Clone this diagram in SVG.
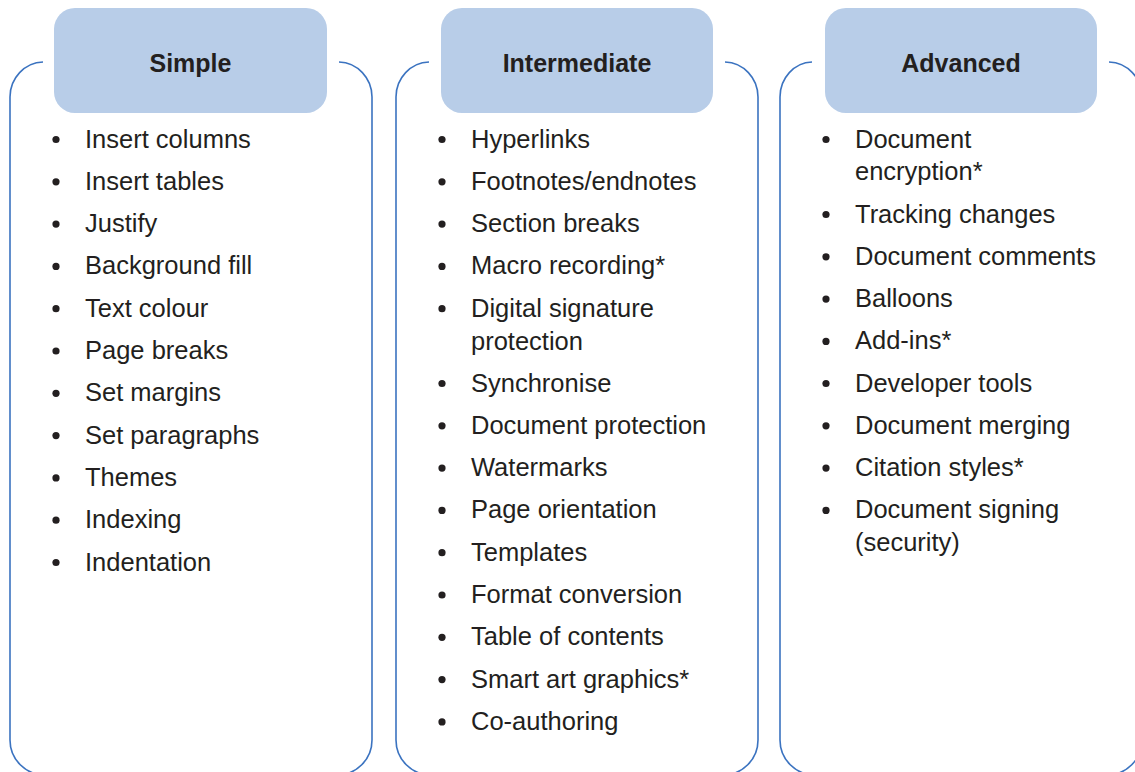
<svg xmlns="http://www.w3.org/2000/svg" width="1135" height="772" viewBox="0 0 1135 772">
<style>
.frame{fill:none;stroke:#3b73c0;stroke-width:1.6}
.head{fill:#b8cde8}
.ht{font-family:"Liberation Sans",Arial,sans-serif;font-weight:bold;font-size:25px;fill:#231f20;text-anchor:middle}
.it{font-family:"Liberation Sans",Arial,sans-serif;font-size:25.5px;fill:#231f20}
.b{fill:#231f20}
</style>
<rect width="1135" height="772" fill="#ffffff"/>
<g id="connectors">
<path class="frame" d="M43,62 A34,35 0 0 0 10,97 V740 A35,35 0 0 0 45,775 H337 A35,35 0 0 0 372,740 V97 A34,35 0 0 0 339,62"/>
<path class="frame" d="M429,62 A34,35 0 0 0 396,97 V740 A35,35 0 0 0 431,775 H723 A35,35 0 0 0 758,740 V97 A34,35 0 0 0 725,62"/>
<path class="frame" d="M812,62 A33,35 0 0 0 780,97 V740 A35,35 0 0 0 815,775 H1107 A35,35 0 0 0 1142,740 V97 A34,35 0 0 0 1109,62"/>
</g>
<g id="simple">
<rect class="head" x="54" y="8" width="273" height="105" rx="21"/>
<text class="ht" x="190.5" y="71.5">Simple</text>
<g class="b">
<circle cx="56" cy="139.5" r="3.6"/><circle cx="56" cy="181.8" r="3.6"/><circle cx="56" cy="224.1" r="3.6"/><circle cx="56" cy="266.4" r="3.6"/><circle cx="56" cy="308.7" r="3.6"/><circle cx="56" cy="351" r="3.6"/><circle cx="56" cy="393.3" r="3.6"/><circle cx="56" cy="435.6" r="3.6"/><circle cx="56" cy="477.9" r="3.6"/><circle cx="56" cy="520.2" r="3.6"/><circle cx="56" cy="562.5" r="3.6"/>
</g>
<text class="it" x="85" y="147.5">Insert columns</text>
<text class="it" x="85" y="189.8">Insert tables</text>
<text class="it" x="85" y="232.1">Justify</text>
<text class="it" x="85" y="274.4">Background fill</text>
<text class="it" x="85" y="316.7">Text colour</text>
<text class="it" x="85" y="359">Page breaks</text>
<text class="it" x="85" y="401.3">Set margins</text>
<text class="it" x="85" y="443.6">Set paragraphs</text>
<text class="it" x="85" y="485.9">Themes</text>
<text class="it" x="85" y="528.2">Indexing</text>
<text class="it" x="85" y="570.5">Indentation</text>
</g>
<g id="intermediate">
<rect class="head" x="441" y="8" width="272" height="105" rx="21"/>
<text class="ht" x="577" y="71.5">Intermediate</text>
<g class="b">
<circle cx="442" cy="139.5" r="3.6"/><circle cx="442" cy="181.8" r="3.6"/><circle cx="442" cy="224.1" r="3.6"/><circle cx="442" cy="266.4" r="3.6"/><circle cx="442" cy="308.7" r="3.6"/><circle cx="442" cy="383.5" r="3.6"/><circle cx="442" cy="425.8" r="3.6"/><circle cx="442" cy="468.1" r="3.6"/><circle cx="442" cy="510.4" r="3.6"/><circle cx="442" cy="552.7" r="3.6"/><circle cx="442" cy="595" r="3.6"/><circle cx="442" cy="637.3" r="3.6"/><circle cx="442" cy="679.6" r="3.6"/><circle cx="442" cy="721.9" r="3.6"/>
</g>
<text class="it" x="471" y="147.5">Hyperlinks</text>
<text class="it" x="471" y="189.8">Footnotes/endnotes</text>
<text class="it" x="471" y="232.1">Section breaks</text>
<text class="it" x="471" y="274.4">Macro recording*</text>
<text class="it" x="471" y="316.7">Digital signature</text>
<text class="it" x="471" y="349.5">protection</text>
<text class="it" x="471" y="391.5">Synchronise</text>
<text class="it" x="471" y="433.8">Document protection</text>
<text class="it" x="471" y="476.1">Watermarks</text>
<text class="it" x="471" y="518.4">Page orientation</text>
<text class="it" x="471" y="560.7">Templates</text>
<text class="it" x="471" y="603">Format conversion</text>
<text class="it" x="471" y="645.3">Table of contents</text>
<text class="it" x="471" y="687.6">Smart art graphics*</text>
<text class="it" x="471" y="729.9">Co-authoring</text>
</g>
<g id="advanced">
<rect class="head" x="825" y="8" width="272" height="105" rx="21"/>
<text class="ht" x="961" y="71.5">Advanced</text>
<g class="b">
<circle cx="826" cy="139.5" r="3.6"/><circle cx="826" cy="214.5" r="3.6"/><circle cx="826" cy="256.8" r="3.6"/><circle cx="826" cy="299.1" r="3.6"/><circle cx="826" cy="341.4" r="3.6"/><circle cx="826" cy="383.5" r="3.6"/><circle cx="826" cy="425.8" r="3.6"/><circle cx="826" cy="468.1" r="3.6"/><circle cx="826" cy="510.4" r="3.6"/>
</g>
<text class="it" x="855" y="147.5">Document</text>
<text class="it" x="855" y="180">encryption*</text>
<text class="it" x="855" y="222.5">Tracking changes</text>
<text class="it" x="855" y="264.8">Document comments</text>
<text class="it" x="855" y="307.1">Balloons</text>
<text class="it" x="855" y="349.4">Add-ins*</text>
<text class="it" x="855" y="391.5">Developer tools</text>
<text class="it" x="855" y="433.8">Document merging</text>
<text class="it" x="855" y="476.1">Citation styles*</text>
<text class="it" x="855" y="518.4">Document signing</text>
<text class="it" x="855" y="551">(security)</text>
</g>
</svg>
